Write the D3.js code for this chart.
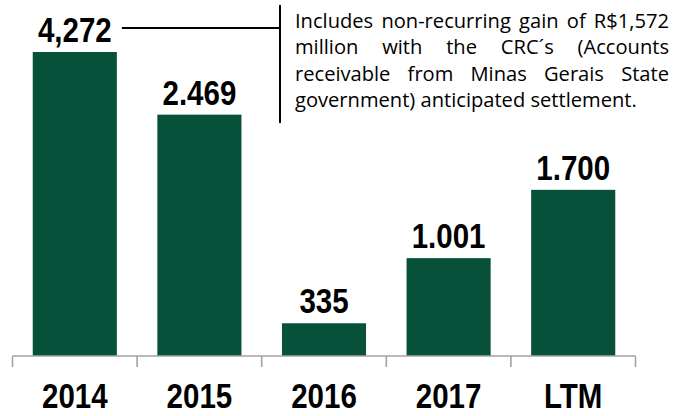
<!DOCTYPE html>
<html>
<head>
<meta charset="utf-8">
<script src="https://cdnjs.cloudflare.com/ajax/libs/d3/7.8.5/d3.min.js"></script>
<style>
  html, body { margin: 0; padding: 0; background: #fff; }
  svg { display: block; }
</style>
</head>
<body>
<div id="chart"></div>
<script>
// data
const categories = ["2014", "2015", "2016", "2017", "LTM"];
const values = [4272, 2469, 335, 1001, 1700];
const valueLabels = ["4,272", "2.469", "335", "1.001", "1.700"];
const noteLines = [
    "Includes non-recurring gain of R$1,572",
    "million with the CRC\u00b4s (Accounts",
    "receivable from Minas Gerais State",
    "government) anticipated settlement."
];

const width = 676, height = 416;
const baseY = 356, capY = 52;

const svg = d3.select("#chart").append("svg")
    .attr("width", width)
    .attr("height", height);

const x = d3.scaleBand()
    .domain(categories)
    .range([12.5, 635.5])
    .paddingInner(0.325)
    .paddingOuter(0.1625);

// 2014 bar is cut off (non-recurring gain), so clamp the scale
const y = d3.scaleLinear()
    .domain([0, 3110])
    .range([baseY, capY])
    .clamp(true);

const green = "#07503a";

// bars
svg.append("g")
    .selectAll("rect")
    .data(values)
    .join("rect")
    .attr("x", (d, i) => x(categories[i]))
    .attr("y", d => y(d))
    .attr("width", x.bandwidth())
    .attr("height", d => baseY - y(d))
    .attr("fill", green);

// axis line and ticks at the band edges
const step = x.step();
const edges = categories.map(c => x(c) - step * x.paddingInner() / 2);
edges.push(edges[edges.length - 1] + step);

const axis = svg.append("g").attr("stroke", "#a3a3a3").attr("stroke-width", 1.6);
axis.append("line")
    .attr("x1", edges[0]).attr("x2", edges[edges.length - 1])
    .attr("y1", baseY).attr("y2", baseY);
axis.selectAll("line.tick")
    .data(edges)
    .join("line")
    .attr("class", "tick")
    .attr("x1", d => d).attr("x2", d => d)
    .attr("y1", baseY).attr("y2", baseY + 11);

// condensed bold labels (Arial Narrow look)
function narrowText(g, cx, yy, txt) {
    g.append("text")
        .attr("transform", `translate(${cx},${yy}) scale(0.82,1)`)
        .attr("text-anchor", "middle")
        .attr("font-family", "'Liberation Sans', Arial, sans-serif")
        .attr("font-weight", "bold")
        .attr("font-size", 36)
        .attr("fill", "#000")
        .text(txt);
}

const labels = svg.append("g");
values.forEach((v, i) => {
    const cx = x(categories[i]) + x.bandwidth() / 2;
    narrowText(labels, cx, y(v) - 10, valueLabels[i]);
});
categories.forEach(c => {
    narrowText(labels, x(c) + x.bandwidth() / 2, 408, c);
});

// annotation bracket
const first = x(categories[0]) + x.bandwidth();
svg.append("line")
    .attr("x1", first + 5).attr("x2", 280)
    .attr("y1", 28).attr("y2", 28)
    .attr("stroke", "#000").attr("stroke-width", 2);
svg.append("line")
    .attr("x1", 280).attr("x2", 280)
    .attr("y1", 5).attr("y2", 123)
    .attr("stroke", "#000").attr("stroke-width", 2);

// justified note text
const noteLeft = 295, noteRight = 669, lineGap = 26.3, firstBase = 28;
const noteFont = 20.5;
const note = svg.append("g")
    .attr("font-family", "'Open Sans', 'Noto Sans', sans-serif")
    .attr("font-size", noteFont)
    .attr("fill", "#000");

// measure the last line to get a horizontal squeeze (Calibri is narrow)
const probe = note.append("text").text(noteLines[3]);
const sx = 342 / probe.node().getComputedTextLength();
probe.remove();

noteLines.forEach((line, li) => {
    const lg = note.append("g")
        .attr("transform", `translate(${noteLeft},${firstBase + li * lineGap}) scale(${sx},1)`);
    const words = line.split(" ");
    const spans = words.map(w => lg.append("text").text(w));
    const ws = spans.map(s => s.node().getComputedTextLength());
    const total = d3.sum(ws);
    const avail = (noteRight - noteLeft) / sx;
    const space = li < noteLines.length - 1
        ? (avail - total) / (words.length - 1)
        : noteFont * 0.26;
    let cx = 0;
    spans.forEach((s, k) => {
        s.attr("x", cx);
        cx += ws[k] + space;
    });
});
</script>
</body>
</html>
